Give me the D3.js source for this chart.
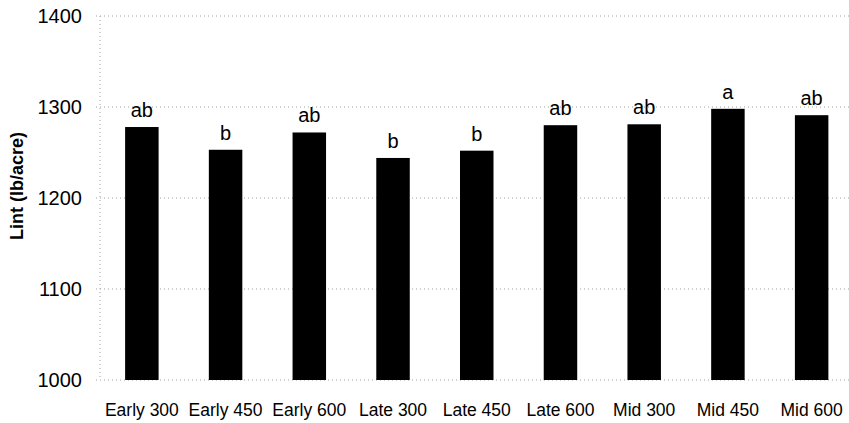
<!DOCTYPE html>
<html>
<head>
<meta charset="utf-8">
<script src="https://cdn.jsdelivr.net/npm/d3@7"></script>
<style>
  html, body { margin: 0; padding: 0; background: #fff; }
  svg { display: block; }
  text { font-family: Arial, "Liberation Sans", sans-serif; fill: #000; }
</style>
</head>
<body>
<svg id="chart" width="849" height="423"></svg>
<script>
const categories = ["Early 300", "Early 450", "Early 600", "Late 300", "Late 450", "Late 600", "Mid 300", "Mid 450", "Mid 600"];
const lint = [1278, 1253, 1272, 1244, 1252, 1280, 1281, 1298, 1291];
const letters = ["ab", "b", "ab", "b", "b", "ab", "ab", "a", "ab"];
const yTicks = [1000, 1100, 1200, 1300, 1400];
const yTitle = "Lint (lb/acre)";

(function () {
const svg = d3.select("#chart");
const mLeft = 100, mRight = 853.5, mTop = 16, mBottom = 380;

const x = d3.scaleBand().domain(categories).range([mLeft, mRight]).paddingInner(0.6).paddingOuter(0.3);
const y = d3.scaleLinear().domain([1000, 1400]).range([mBottom, mTop]);

// gridlines
svg.append("g").selectAll("line").data(yTicks).join("line")
  .attr("x1", mLeft - 4).attr("x2", 849)
  .attr("y1", d => y(d)).attr("y2", d => y(d))
  .attr("stroke", "#a0a0a0").attr("stroke-width", 1)
  .attr("stroke-dasharray", "1,3");

// y axis line (dotted)
svg.append("line")
  .attr("x1", mLeft).attr("x2", mLeft).attr("y1", y(1400)).attr("y2", y(1000))
  .attr("stroke", "#a0a0a0").attr("stroke-dasharray", "1,3");

// y axis labels
const yAxis = d3.axisLeft(y).tickValues(yTicks).tickSize(0).tickPadding(18).tickFormat(d3.format("d"));
const gy = svg.append("g").attr("transform", `translate(${mLeft},0)`).call(yAxis);
gy.select(".domain").remove();
gy.selectAll("text").style("font-size", "20px").style("font-family", "Arial, 'Liberation Sans', sans-serif");

// bars
svg.append("g").selectAll("rect").data(categories).join("rect")
  .attr("x", d => x(d)).attr("width", x.bandwidth())
  .attr("y", (d, i) => y(lint[i])).attr("height", (d, i) => y(1000) - y(lint[i]))
  .attr("fill", "#000");

// letters
svg.append("g").selectAll("text").data(categories).join("text")
  .attr("x", d => x(d) + x.bandwidth() / 2)
  .attr("y", (d, i) => y(lint[i]) - 10)
  .attr("text-anchor", "middle")
  .style("font-size", "20px")
  .text((d, i) => letters[i]);

// x axis labels
const xAxis = d3.axisBottom(x).tickSize(0).tickPadding(0);
const gx = svg.append("g").attr("transform", `translate(0,${mBottom + 24})`).call(xAxis);
gx.select(".domain").remove();
gx.selectAll("text").style("font-size", "17.5px").style("font-family", "Arial, 'Liberation Sans', sans-serif")
  .attr("dy", "0.71em");

// y title
svg.append("text")
  .attr("transform", `translate(23,186) rotate(-90)`)
  .attr("text-anchor", "middle")
  .style("font-size", "18px").style("font-weight", "bold")
  .text(yTitle);
})();
</script>
</body>
</html>
